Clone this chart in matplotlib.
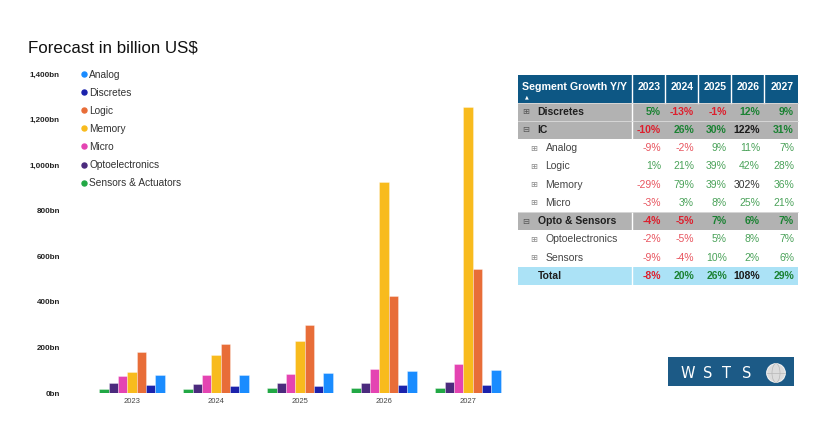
import matplotlib.pyplot as plt
import matplotlib.patches as mpatches
from matplotlib.lines import Line2D
import numpy as np

plt.rcParams['font.family'] = ['Liberation Sans', 'DejaVu Sans']

# data (billion US$)
years = ["2023", "2024", "2025", "2026", "2027"]
sensors = [19, 18, 20, 20, 22]
opto = [43, 41, 43, 46, 50]
micro = [76, 78, 84, 105, 127]
memory = [92, 165, 229, 925, 1255]
logic = [178, 216, 300, 427, 546]
discretes = [35, 31, 30, 34, 37]
analog = [80, 79, 86, 96, 102]

# bar order inside a group, left to right
series = [
    ("Sensors & Actuators", sensors, "#22a845"),
    ("Optoelectronics", opto, "#4b2a7d"),
    ("Micro", micro, "#e444b2"),
    ("Memory", memory, "#f8bb1d"),
    ("Logic", logic, "#e86d38"),
    ("Discretes", discretes, "#1b22ac"),
    ("Analog", analog, "#1a8cff"),
]
legend_order = ["Analog", "Discretes", "Logic", "Memory", "Micro",
                "Optoelectronics", "Sensors & Actuators"]

# growth table
table_head = "Segment Growth Y/Y"
table_labels = ["Discretes", "IC", "Analog", "Logic", "Memory", "Micro",
                "Opto & Sensors", "Optoelectronics", "Sensors", "Total"]
table_kind = ["group", "group_open", "sub", "sub", "sub", "sub",
              "group_open", "sub", "sub", "total"]
growth = [
    [5, -13, -1, 12, 9],
    [-10, 26, 30, 122, 31],
    [-9, -2, 9, 11, 7],
    [1, 21, 39, 42, 28],
    [-29, 79, 39, 302, 36],
    [-3, 3, 8, 25, 21],
    [-4, -5, 7, 6, 7],
    [-2, -5, 5, 8, 7],
    [-9, -4, 10, 2, 6],
    [-8, 20, 26, 108, 29],
]

W, H = 835, 429
fig = plt.figure(figsize=(W / 100, H / 100), dpi=100)

# ---- bar chart ----
ax = fig.add_axes([64 / W, 36 / H, (510 - 64) / W, 319 / H])
x = np.arange(len(years))
bw = 0.111
for i, (name, vals, col) in enumerate(series):
    ax.bar(x + (i - 3) * bw, vals, bw, color=col, edgecolor=(1, 1, 1, 0.45),
           linewidth=0.5, label=name)

ax.set_xlim(-0.809, 4.5)
ax.set_ylim(0, 1400)
ax.set_xticks(x)
ax.set_xticklabels(years, fontsize=5.5, color="#444444")
yt = list(range(0, 1401, 200))
ax.set_yticks(yt)
ax.set_yticklabels([f"{v:,}bn" for v in yt], fontsize=5.8, fontweight="bold",
                   color="#222222")
ax.tick_params(length=0)
ax.tick_params(axis="x", pad=3.5)
ax.tick_params(axis="y", pad=3)
for s in ax.spines.values():
    s.set_visible(False)

colors = {n: c for n, _, c in series}
handles = [Line2D([], [], marker="o", linestyle="none", markersize=3.6,
                  markerfacecolor=colors[n], markeredgecolor=colors[n])
           for n in legend_order]
ax.legend(handles, legend_order, loc="upper left",
          bbox_to_anchor=(81 / W, (H - 69.5) / H), bbox_transform=fig.transFigure,
          frameon=False, fontsize=7.3, labelcolor="#333333", borderpad=0,
          borderaxespad=0, handlelength=0.6, handletextpad=0.2,
          labelspacing=0.8)

fig.text(28 / W, 1 - 47.5 / H, "Forecast in billion US$", fontsize=12.2,
         va="center", ha="left", color="#111111")

# ---- table and logo, drawn in pixel coordinates ----
ov = fig.add_axes([0, 0, 1, 1], facecolor="none")
ov.set_xlim(0, W)
ov.set_ylim(H, 0)
ov.axis("off")

edges = [518, 632, 665, 698, 731, 764, 798]
head_top, head_bot = 75, 102.5
rh = 18.25
fs = 7.5

ov.add_patch(mpatches.Rectangle((edges[0], head_top), edges[-1] - edges[0],
                                head_bot - head_top, color="#0d5784", lw=0))
for e in edges[1:-1]:
    ov.plot([e, e], [head_top, head_bot], color="white", lw=1)
ov.text(522, 86.5, table_head, color="white", fontsize=7.65, fontweight="bold",
        va="center", ha="left")
ov.text(527, 96.5, "\u25b2", color="white", fontsize=3.5, va="center",
        ha="center", family="DejaVu Sans")
for j, yr in enumerate(years):
    ov.text(edges[j + 2] - 4.5, 87, yr, color="white", fontsize=fs,
            fontweight="bold", va="center", ha="right")

for r, (lab, kind, vals) in enumerate(zip(table_labels, table_kind, growth)):
    y0 = head_bot + r * rh
    yc = y0 + rh / 2
    bold = kind != "sub"
    if kind.startswith("group"):
        ov.add_patch(mpatches.Rectangle((edges[0], y0), edges[-1] - edges[0],
                                        rh, color="#b2b2b2", lw=0))
        ov.plot([edges[1], edges[1]], [y0, y0 + rh], color="white", lw=1)
        ov.plot([edges[0], edges[-1]], [y0, y0], color="#dcdcdc", lw=0.6)
        icon = "\u229f" if kind == "group_open" else "\u229e"
        ov.text(526, yc, icon, fontsize=6, color="#555555", va="center",
                ha="center", family="DejaVu Sans")
        ov.text(537.5, yc, lab, fontsize=fs, fontweight="bold",
                color="#1e1e1e", va="center", ha="left")
    elif kind == "total":
        ov.add_patch(mpatches.Rectangle((edges[0], y0), edges[-1] - edges[0],
                                        rh, color="#abe2f6", lw=0))
        ov.plot([edges[1], edges[1]], [y0, y0 + rh], color="white", lw=1)
        ov.text(537.5, yc, lab, fontsize=fs, fontweight="bold",
                color="#1e1e1e", va="center", ha="left")
    else:
        ov.text(534, yc, "\u229e", fontsize=6, color="#8a8a8a", va="center",
                ha="center", family="DejaVu Sans")
        ov.text(545.5, yc, lab, fontsize=fs, color="#444444", va="center",
                ha="left")
    for j, v in enumerate(vals):
        if v >= 100:
            c = "#1a1a1a" if bold else "#333333"
        elif v < 0:
            c = "#dd1f2d" if bold else "#e8545e"
        else:
            c = "#1b8233" if bold else "#4aa259"
        ov.text(edges[j + 2] - 4, yc, f"{v}%", fontsize=fs,
                fontweight="bold" if bold else "normal", color=c,
                va="center", ha="right")

# WSTS logo
ov.add_patch(mpatches.Rectangle((668, 357), 126, 29, color="#1c5a86", lw=0))
for ch, cx in zip("WSTS", [688, 708, 727, 747]):
    ov.text(cx, 373.5, ch, color="white", fontsize=10.5, va="center",
            ha="center", family="DejaVu Sans")
ov.add_patch(mpatches.Circle((776, 373), 9.3, facecolor="#dcdcdc",
                             edgecolor="#f2f2f2", lw=0.8))
ov.add_patch(mpatches.Ellipse((776, 373), 8, 18.6, fill=False,
                              edgecolor="#b8b8b8", lw=0.5))
ov.plot([767, 785], [373, 373], color="#b8b8b8", lw=0.5)

fig.savefig("out.png", dpi=100)
